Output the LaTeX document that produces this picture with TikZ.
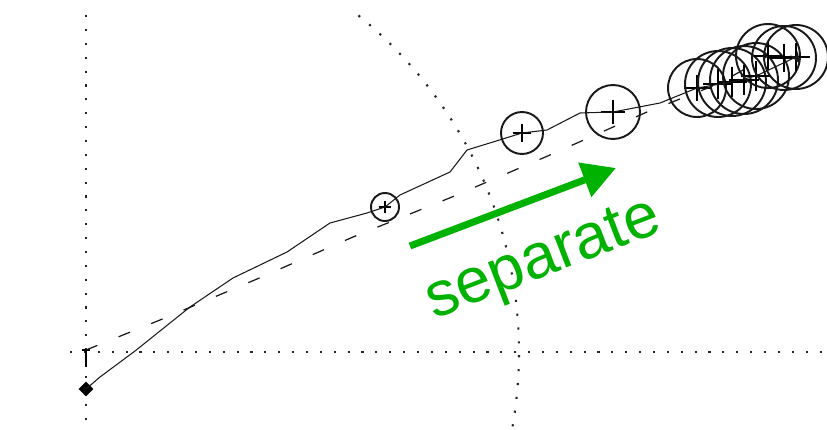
\documentclass[tikz,border=0pt]{standalone}
\usepackage{fontspec}
\setsansfont{Liberation Sans}
\usetikzlibrary{arrows.meta,shapes.geometric}
\definecolor{sepgreen}{RGB}{0,178,0}

\begin{document}
\begin{tikzpicture}[x=0.02cm, y=-0.02cm, >=Stealth,
  griddots/.style={black!85, line width=1.2pt, dash pattern=on 1.2pt off 6.7pt},
  trail/.style={black!90, line width=0.6pt},
  traildash/.style={black!90, line width=0.7pt, dash pattern=on 7pt off 13pt},
  ring/.style={circle, draw=black!90, line width=1.1pt, inner sep=0pt}]

\useasboundingbox (0,0) rectangle (827,429);

% Axes and range arc
\draw[griddots] (86,15) -- (86,429);
\draw[griddots] (70,352) -- (827,352);
\draw[griddots] plot[domain=-51:10, samples=60] ({86+433*cos(\x)}, {352+433*sin(\x)});

% Start markers
\node[diamond, fill=black, inner sep=0pt, minimum size=0.3cm] (start) at (86,389) {};
\coordinate (origin) at (86,350);
\draw[line width=0.8pt] (origin) -- ++(0,17);
\draw[line width=0.8pt] (82,350) -- (90,350);

% Position circles
\foreach \n/\x/\y/\r in {c1/385/207/14, c2/522/133/21, c3/613/112/27,
    k1/697/88/29, k2/718/84/33, k3/732/82/34, k4/744/80/34, k5/756/76/33,
    k6/768/56/32, k7/784/58/32, k8/796/57/32} {
  \node[ring, minimum size=\r*0.04cm] (\n) at (\x,\y) {};
  \draw[line width=0.9pt] (\n.center) ++(-\r*0.45,0) -- ++(\r*0.9,0);
  \draw[line width=0.9pt] (\n.center) ++(0,-\r*0.45) -- ++(0,\r*0.9);
}

% Dashed track
\draw[traildash] (origin) -- (160,320) -- (257,279) -- (353,237) -- (452,197)
  -- (550,155) -- (647,112) -- (k2.center) -- (k6.center);

% Solid track
\draw[trail, -{Stealth[length=7pt,width=5pt]}] (start.center) -- (100,377) -- (135,351) -- (190,307) -- (233,278)
  -- (287,252) -- (330,223) -- (367,213) -- (c1.center) -- (400,195) -- (450,172)
  -- (457,163) -- (467,150) -- (493,142) -- (c2.center) -- (547,130) -- (580,113)
  -- (c3.center) -- (660,103) -- (k1.center) -- (k3.center) -- (k5.center) -- (k8.center) -- (800,64);

% Separate arrow
\coordinate (sepA) at (410,246);
\coordinate (sepB) at (616,168);
\draw[sepgreen, line width=4pt, -{Triangle[length=19pt,width=20pt]}] (sepA) -- (sepB);
\node[sepgreen, font=\sffamily\fontsize{36}{36}\selectfont, rotate=21, inner sep=0pt] (seplbl) at (544,262) {separate};

\end{tikzpicture}
\end{document}
